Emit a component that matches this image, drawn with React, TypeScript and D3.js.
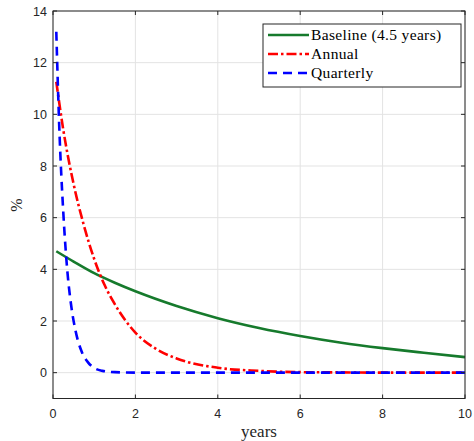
import React from 'react';
import * as d3 from 'd3';

// values
const baseYears = [0.08, 0.5, 1, 1.5, 2, 3, 4, 5, 6, 7, 8, 9, 10];
const baseline = [4.7, 4.3, 3.85, 3.48, 3.15, 2.58, 2.11, 1.73, 1.42, 1.16, 0.95, 0.77, 0.6];

const annualYears = [0.08, 0.25, 0.5, 0.75, 1, 1.25, 1.5, 2, 2.5, 3, 4, 5, 6, 7, 8, 10];
const annual = [11.26, 9.4, 7.3, 5.7, 4.4, 3.4, 2.65, 1.55, 0.92, 0.55, 0.19, 0.07, 0.02, 0.01, 0, 0];

const quarterYears = [0.08, 0.15, 0.25, 0.35, 0.45, 0.55, 0.7, 0.85, 1, 1.2, 1.5, 2, 3, 10];
const quarterly = [13.2, 9.6, 6.2, 3.9, 2.5, 1.6, 0.8, 0.4, 0.18, 0.07, 0.02, 0, 0, 0];

const xTicks = [0, 2, 4, 6, 8, 10];
const yTicks = [0, 2, 4, 6, 8, 10, 12, 14];

const seriesNames = ['Baseline (4.5 years)', 'Annual', 'Quarterly'];
const seriesColors = ['#167a2c', '#ff0000', '#0000ff'];
const seriesDash = ['none', '10,3,2.5,3', '9,6'];

export default function App() {
  const width = 474, height = 441;
  const left = 53, right = 465, top = 11, bottom = 398.5;

  const x = d3.scaleLinear().domain([0, 10]).range([left, right]);
  const y = d3.scaleLinear().domain([-1, 14]).range([bottom, top]);

  const line = d3.line<[number, number]>()
    .x(d => x(d[0]))
    .y(d => y(d[1]))
    .curve(d3.curveMonotoneX);

  const series = [
    d3.zip(baseYears, baseline) as [number, number][],
    d3.zip(annualYears, annual) as [number, number][],
    d3.zip(quarterYears, quarterly) as [number, number][],
  ];

  const axisColor = '#262626';
  const tickFont = '"Liberation Sans", Arial, sans-serif';
  const serif = '"Liberation Serif", "Times New Roman", serif';

  return (
    <svg width={width} height={height} style={{ position: 'absolute', left: 0, top: 0, background: '#fff' }}>
      <rect x={0} y={0} width={width} height={height} fill="#fff" />
      {/* grid */}
      {xTicks.map(t => (
        <line key={'gx' + t} x1={x(t)} x2={x(t)} y1={top} y2={bottom} stroke="#e3e3e3" strokeWidth={1} />
      ))}
      {yTicks.map(t => (
        <line key={'gy' + t} x1={left} x2={right} y1={y(t)} y2={y(t)} stroke="#e3e3e3" strokeWidth={1} />
      ))}

      {/* series */}
      <g>
        {series.map((s, i) => (
          <path key={i} d={line(s) || ''} fill="none" stroke={seriesColors[i]}
            strokeWidth={2.6} strokeDasharray={seriesDash[i]} />
        ))}
      </g>

      {/* box and ticks */}
      <rect x={left} y={top} width={right - left} height={bottom - top} fill="none" stroke={axisColor} strokeWidth={1} />
      {xTicks.map(t => (
        <g key={'tx' + t}>
          <line x1={x(t)} x2={x(t)} y1={bottom} y2={bottom - 4} stroke={axisColor} />
          <line x1={x(t)} x2={x(t)} y1={top} y2={top + 4} stroke={axisColor} />
          <text x={x(t)} y={418} textAnchor="middle" fontFamily={tickFont} fontSize={12.5} fill={axisColor}>{t}</text>
        </g>
      ))}
      {yTicks.map(t => (
        <g key={'ty' + t}>
          <line x1={left} x2={left + 4} y1={y(t)} y2={y(t)} stroke={axisColor} />
          <line x1={right} x2={right - 4} y1={y(t)} y2={y(t)} stroke={axisColor} />
          <text x={47} y={y(t) + 4.5} textAnchor="end" fontFamily={tickFont} fontSize={12.5} fill={axisColor}>{t}</text>
        </g>
      ))}

      {/* axis labels */}
      <text x={259} y={437} textAnchor="middle" fontFamily={serif} fontSize={17} fill={axisColor}>years</text>
      <text transform={`translate(22,${205}) rotate(-90)`} textAnchor="middle" fontFamily={serif} fontSize={16} fill={axisColor}>%</text>

      {/* legend */}
      <g>
        <rect x={263} y={24} width={198} height={63} fill="#fff" stroke={axisColor} strokeWidth={1} />
        {seriesNames.map((n, i) => (
          <g key={n} transform={`translate(0,${35 + i * 19})`}>
            <line x1={268} x2={309} y1={0} y2={0} stroke={seriesColors[i]} strokeWidth={2.6} strokeDasharray={seriesDash[i]} />
            <text x={311} y={4.8} fontFamily={serif} fontSize={15.5} letterSpacing={0.35} fill="#000">{n}</text>
          </g>
        ))}
      </g>
    </svg>
  );
}
